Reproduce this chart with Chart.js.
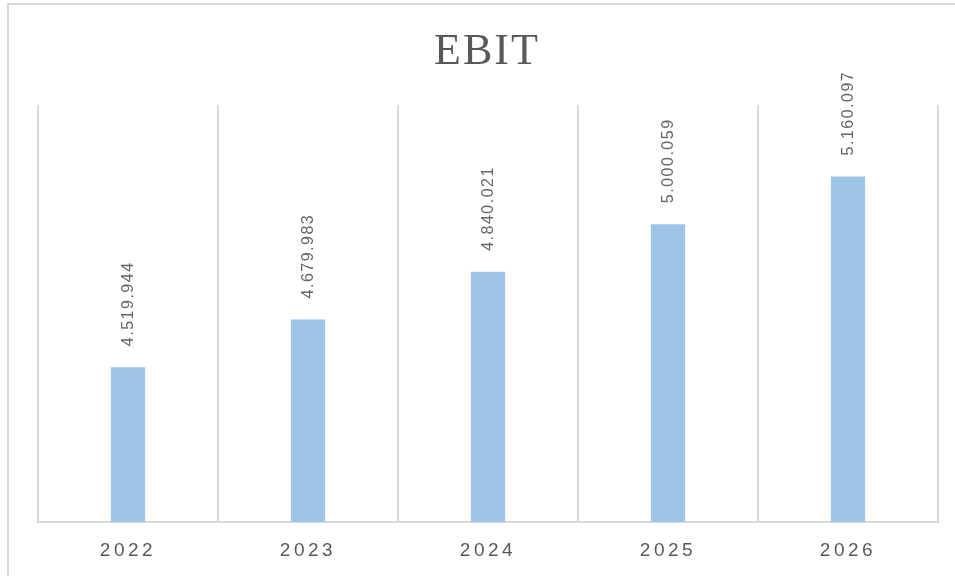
<!DOCTYPE html>
<html>
<head>
<meta charset="utf-8">
<title>EBIT</title>
<script src="https://cdn.jsdelivr.net/npm/chart.js@4.4.1/dist/chart.umd.min.js"></script>
<style>
    html, body { margin: 0; padding: 0; background: #fff; overflow: hidden; }
    #wrap { position: relative; width: 955px; height: 576px; overflow: hidden; }
    #frame {
        position: absolute; left: 7px; top: 3px; right: -10px; bottom: -10px;
        border-left: 2px solid #d9d9d9; border-top: 2px solid #d9d9d9;
    }
    #chartEbit { position: absolute; left: 0; top: 0; }
</style>
</head>
<body>
<div id="wrap">
    <div id="frame"></div>
    <canvas id="chartEbit" width="955" height="576"></canvas>
</div>
<script>
const titleText = "EBIT";
const years = ["2022", "2023", "2024", "2025", "2026"];
const ebitValues = [4519944, 4679983, 4840021, 5000059, 5160097];
const yMin = 4000000;
const yMax = 5400000;

// 4519944 -> "4.519.944"
function formatValue(v) {
    return String(v).replace(/\B(?=(\d{3})+(?!\d))/g, ".");
}

// spaced-out axis labels
const tickSpacing = {
    id: "tickSpacing",
    beforeDraw(chart) { chart.ctx.letterSpacing = "3.5px"; },
    afterDraw(chart) { chart.ctx.letterSpacing = "0px"; }
};

// rotated value above each bar
const valueLabels = {
    id: "valueLabels",
    afterDatasetsDraw(chart) {
        const ctx = chart.ctx;
        const meta = chart.getDatasetMeta(0);
        ctx.save();
        ctx.font = '16px "Liberation Sans", Arial, sans-serif';
        ctx.fillStyle = "#666666";
        ctx.letterSpacing = "1.5px";
        ctx.textAlign = "left";
        ctx.textBaseline = "middle";
        meta.data.forEach((bar, i) => {
            ctx.save();
            ctx.translate(bar.x + 1, bar.y - 21);
            ctx.rotate(-Math.PI / 2);
            ctx.fillText(formatValue(ebitValues[i]), 0, 0);
            ctx.restore();
        });
        ctx.restore();
    }
};

// serif title, drawn by hand for the letter spacing
const chartTitle = {
    id: "chartTitle",
    afterDraw(chart) {
        const ctx = chart.ctx;
        const area = chart.chartArea;
        ctx.save();
        ctx.font = '44px "Liberation Serif", "Times New Roman", serif';
        ctx.fillStyle = "#595959";
        ctx.letterSpacing = "2px";
        ctx.textAlign = "center";
        ctx.textBaseline = "alphabetic";
        ctx.fillText(titleText, (area.left + area.right) / 2 - 1, 64);
        ctx.restore();
    }
};

new Chart(document.getElementById("chartEbit"), {
    type: "bar",
    data: {
        labels: years,
        datasets: [{
            data: ebitValues,
            backgroundColor: "#9dc3e6",
            barPercentage: 0.19,
            categoryPercentage: 1
        }]
    },
    options: {
        responsive: false,
        devicePixelRatio: 1,
        animation: false,
        layout: { padding: { left: 38, right: 17, top: 105, bottom: 0 } },
        plugins: {
            legend: { display: false },
            tooltip: { enabled: false },
            title: { display: false }
        },
        scales: {
            x: {
                grid: { color: "#d9d9d9", lineWidth: 2, drawTicks: false, offset: true },
                border: { display: true, color: "#d9d9d9", width: 2 },
                ticks: {
                    color: "#595959",
                    font: { family: '"Liberation Sans", Arial, sans-serif', size: 19 },
                    padding: 17,
                    maxRotation: 0,
                    autoSkip: false
                },
                afterFit(scale) { scale.height = 54; }
            },
            y: { display: false, min: yMin, max: yMax }
        }
    },
    plugins: [tickSpacing, valueLabels, chartTitle]
});
</script>
</body>
</html>
